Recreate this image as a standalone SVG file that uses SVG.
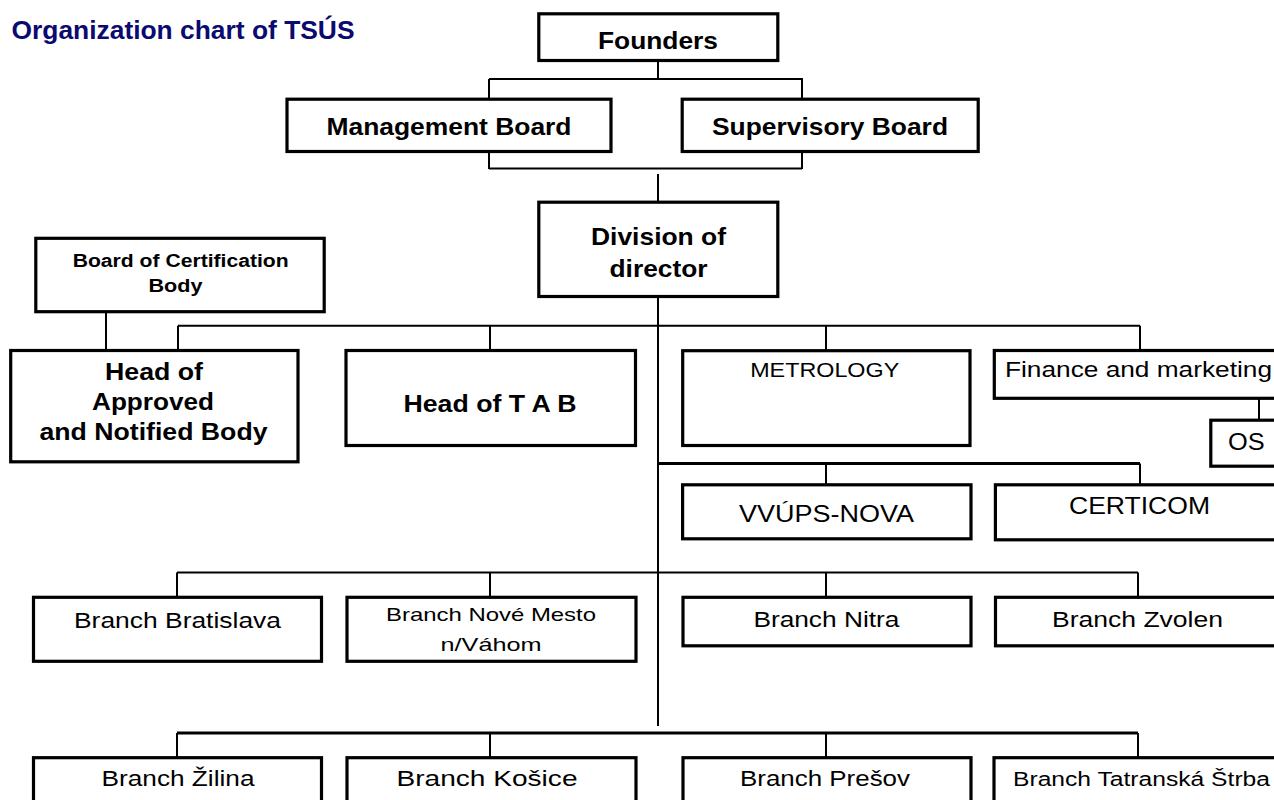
<svg xmlns="http://www.w3.org/2000/svg" width="1274" height="800" viewBox="0 0 1274 800">
<style>
.box{fill:#fff;stroke:#000;stroke-width:3.2}
.ln{stroke:#000;stroke-width:2;fill:none}
.lt{stroke:#000;stroke-width:3;fill:none}
.b{font-family:"Liberation Sans",Arial,sans-serif;font-weight:bold;fill:#000;text-anchor:middle}
.r{font-family:"Liberation Sans",Arial,sans-serif;fill:#000;text-anchor:middle}
</style>
<rect width="1274" height="800" fill="#fff"/>
<text x="11.5" y="38.5" font-family="Liberation Sans, Arial, sans-serif" font-weight="bold" font-size="25" fill="#0a0a70" textLength="343" lengthAdjust="spacingAndGlyphs">Organization chart of TSÚS</text>
<g id="connectors">
<path class="ln" d="M658 54V80M489 79H803M489 79V100M802 79V100"/>
<path class="ln" d="M489 151V169M802 151V169M489 168.5H802M658 174V202"/>
<path class="ln" d="M658 296V726"/>
<path class="ln" d="M106 313V350"/>
<path class="ln" d="M178 325.7H1140M178 325.7V350M490 325.7V350M826 325.7V350M1140 325.7V350"/>
<path class="ln" d="M1259 395V420"/>
<path class="lt" d="M658 463.5H1140"/>
<path class="ln" d="M826 463.5V485M1140 463.5V485"/>
<path class="ln" d="M177 572.5H1138M177 572.5V597M490 572.5V597M826 572.5V597M1138 572.5V597"/>
<path class="lt" d="M177 733H1138"/>
<path class="ln" d="M177 733V757M490 733V757M826 733V757M1138 733V757"/>
</g>
<g id="founders"><rect class="box" x="538.8" y="13.8" width="239" height="46.7"/><text class="b" x="658" y="49" font-size="24" textLength="120" lengthAdjust="spacingAndGlyphs">Founders</text></g>
<g id="management-board"><rect class="box" x="287" y="99.2" width="324" height="52.3"/><text class="b" x="449" y="135" font-size="24" textLength="245" lengthAdjust="spacingAndGlyphs">Management Board</text></g>
<g id="supervisory-board"><rect class="box" x="682.2" y="99.2" width="296" height="52.3"/><text class="b" x="830" y="135" font-size="24" textLength="236" lengthAdjust="spacingAndGlyphs">Supervisory Board</text></g>
<g id="division-director"><rect class="box" x="538.8" y="202.2" width="239" height="94.3"/><text class="b" x="658.5" y="245" font-size="24" textLength="135" lengthAdjust="spacingAndGlyphs">Division of</text><text class="b" x="658.5" y="277" font-size="24" textLength="98" lengthAdjust="spacingAndGlyphs">director</text></g>
<g id="board-certification"><rect class="box" x="35.8" y="238.3" width="288.4" height="73.4"/><text class="b" x="180.7" y="267" font-size="18" textLength="216" lengthAdjust="spacingAndGlyphs">Board of Certification</text><text class="b" x="175.5" y="291.5" font-size="18" textLength="54" lengthAdjust="spacingAndGlyphs">Body</text></g>
<g id="head-approved"><rect class="box" x="10.7" y="350.5" width="287.3" height="111.3"/><text class="b" x="154" y="380" font-size="24" textLength="98" lengthAdjust="spacingAndGlyphs">Head of</text><text class="b" x="153" y="410" font-size="24" textLength="122" lengthAdjust="spacingAndGlyphs">Approved</text><text class="b" x="153.5" y="440" font-size="24" textLength="228" lengthAdjust="spacingAndGlyphs">and Notified Body</text></g>
<g id="head-tab"><rect class="box" x="346" y="350.5" width="289.5" height="95"/><text class="b" x="490" y="412" font-size="24" textLength="173" lengthAdjust="spacingAndGlyphs">Head of T A B</text></g>
<g id="metrology"><rect class="box" x="682.7" y="350.7" width="287.3" height="94.8"/><text class="r" x="824.7" y="377" font-size="21" textLength="149" lengthAdjust="spacingAndGlyphs">METROLOGY</text></g>
<g id="finance"><rect class="box" x="994.3" y="350.5" width="300" height="47.8"/><text x="1005" y="377" font-family="Liberation Sans, Arial, sans-serif" font-size="22" textLength="267" lengthAdjust="spacingAndGlyphs">Finance and marketing</text></g>
<g id="os"><rect class="box" x="1210.8" y="420.2" width="80" height="46"/><text x="1228" y="450" font-family="Liberation Sans, Arial, sans-serif" font-size="24" textLength="36.7" lengthAdjust="spacingAndGlyphs">OS</text></g>
<g id="vvups-nova"><rect class="box" x="682.6" y="484.8" width="288.4" height="54"/><text class="r" x="826.6" y="522" font-size="23" textLength="175" lengthAdjust="spacingAndGlyphs">VVÚPS-NOVA</text></g>
<g id="certicom"><rect class="box" x="995.4" y="484.8" width="300" height="55"/><text class="r" x="1139.5" y="514" font-size="23" textLength="141" lengthAdjust="spacingAndGlyphs">CERTICOM</text></g>
<g id="branch-bratislava"><rect class="box" x="33.5" y="597.3" width="288" height="64"/><text class="r" x="177.5" y="628" font-size="22" textLength="207" lengthAdjust="spacingAndGlyphs">Branch Bratislava</text></g>
<g id="branch-nove-mesto"><rect class="box" x="347" y="597.3" width="289" height="64"/><text class="r" x="491" y="621" font-size="19" textLength="210" lengthAdjust="spacingAndGlyphs">Branch Nové Mesto</text><text class="r" x="491" y="651" font-size="19" textLength="101" lengthAdjust="spacingAndGlyphs">n/Váhom</text></g>
<g id="branch-nitra"><rect class="box" x="683" y="597.3" width="288" height="48.5"/><text class="r" x="826.4" y="627" font-size="22" textLength="146" lengthAdjust="spacingAndGlyphs">Branch Nitra</text></g>
<g id="branch-zvolen"><rect class="box" x="995.5" y="597.3" width="300" height="48.5"/><text class="r" x="1137.5" y="627" font-size="22" textLength="171" lengthAdjust="spacingAndGlyphs">Branch Zvolen</text></g>
<g id="branch-zilina"><rect class="box" x="33.5" y="757.7" width="288" height="60"/><text class="r" x="178" y="786" font-size="22" textLength="153" lengthAdjust="spacingAndGlyphs">Branch Žilina</text></g>
<g id="branch-kosice"><rect class="box" x="347" y="757.7" width="289" height="60"/><text class="r" x="487" y="786" font-size="22" textLength="181" lengthAdjust="spacingAndGlyphs">Branch Košice</text></g>
<g id="branch-presov"><rect class="box" x="683" y="757.7" width="288" height="60"/><text class="r" x="825" y="786" font-size="22" textLength="170" lengthAdjust="spacingAndGlyphs">Branch Prešov</text></g>
<g id="branch-tatranska-strba"><rect class="box" x="994" y="757.7" width="300" height="60"/><text x="1013" y="786" font-family="Liberation Sans, Arial, sans-serif" font-size="20" textLength="257" lengthAdjust="spacingAndGlyphs">Branch Tatranská Štrba</text></g>
</svg>
